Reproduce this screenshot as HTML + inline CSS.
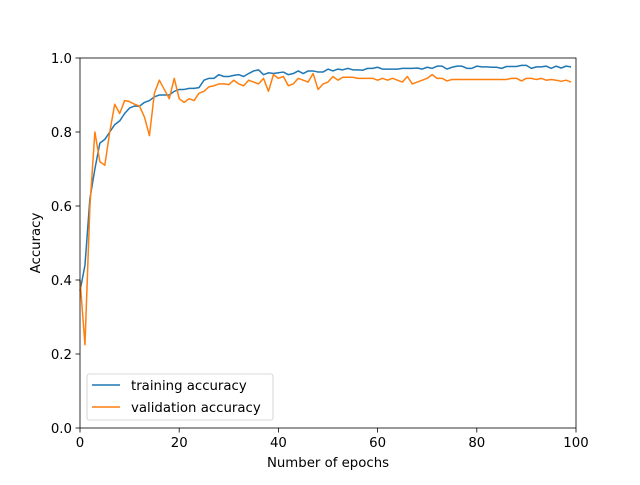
<!DOCTYPE html>
<html><head><meta charset="utf-8"><style>
body{margin:0;background:#fff;}
svg text{font-family:"DejaVu Sans","Liberation Sans",sans-serif;font-size:13.3px;fill:#000;}
</style></head><body>
<svg id="chart" width="640" height="480">
<rect width="640" height="480" fill="#fff"/>
<g id="plot"></g>
</svg>
<script>
const epochs = Array.from({length:100},(_,i)=>i);
const trainingAcc = [0.37,0.44,0.62,0.7,0.77,0.78,0.8,0.82,0.83,0.85,0.865,0.87,0.87,0.88,0.885,0.895,0.9,0.9,0.9,0.91,0.915,0.915,0.918,0.918,0.92,0.94,0.945,0.945,0.955,0.95,0.95,0.953,0.955,0.95,0.958,0.965,0.968,0.955,0.96,0.958,0.96,0.962,0.955,0.958,0.965,0.958,0.965,0.965,0.962,0.962,0.97,0.965,0.97,0.968,0.972,0.968,0.968,0.967,0.972,0.972,0.975,0.97,0.97,0.97,0.97,0.972,0.972,0.972,0.973,0.97,0.975,0.972,0.978,0.978,0.97,0.975,0.978,0.978,0.972,0.972,0.978,0.976,0.976,0.975,0.975,0.972,0.977,0.977,0.977,0.98,0.98,0.972,0.976,0.976,0.978,0.972,0.978,0.973,0.978,0.976];
const validationAcc = [0.4,0.225,0.6,0.8,0.72,0.71,0.8,0.875,0.85,0.885,0.882,0.875,0.87,0.84,0.79,0.905,0.94,0.915,0.89,0.945,0.89,0.88,0.89,0.885,0.905,0.91,0.922,0.925,0.93,0.93,0.928,0.94,0.93,0.925,0.94,0.935,0.93,0.945,0.91,0.955,0.945,0.95,0.925,0.93,0.945,0.94,0.935,0.958,0.915,0.93,0.935,0.95,0.94,0.948,0.948,0.948,0.945,0.945,0.945,0.945,0.94,0.945,0.94,0.945,0.94,0.935,0.95,0.93,0.935,0.94,0.945,0.955,0.945,0.945,0.938,0.942,0.942,0.942,0.942,0.942,0.942,0.942,0.942,0.942,0.942,0.942,0.942,0.945,0.945,0.938,0.945,0.945,0.942,0.945,0.94,0.942,0.94,0.937,0.94,0.935];
const xTicks = [0,20,40,60,80,100];
const yTicks = [0.0,0.2,0.4,0.6,0.8,1.0];

const NS='http://www.w3.org/2000/svg';
const L=80,R=576,T=58,B=428;
const xs=v=>L+(v-0)/(100-0)*(R-L);
const ys=v=>B-(v-0)/(1-0)*(B-T);
const g=document.getElementById('plot');
function mk(tag,attrs,parent){const e=document.createElementNS(NS,tag);for(const k in attrs)e.setAttribute(k,attrs[k]);(parent||g).appendChild(e);return e;}

function line(arr,color,name){
  const p=mk('polyline',{points:arr.map((v,i)=>xs(epochs[i])+','+ys(v)).join(' '),fill:'none',stroke:color,'stroke-width':1.5,'stroke-linejoin':'round'});
  
  
}
line(trainingAcc,'#1f77b4','training-accuracy-line');
line(validationAcc,'#ff7f0e','validation-accuracy-line');

const frame=mk('rect',{x:L,y:T,width:R-L,height:B-T,fill:'none',stroke:'#000','stroke-width':0.8});



xTicks.forEach(t=>{
  const x=xs(t);
  const tk=mk('line',{x1:x,x2:x,y1:B,y2:B+4.5,stroke:'#000','stroke-width':0.8});
  
  
  const tx=mk('text',{x:x,y:B+19,'text-anchor':'middle'});tx.textContent=t;
  
  
});
yTicks.forEach(t=>{
  const y=ys(t);
  const tk=mk('line',{x1:L-4.5,x2:L,y1:y,y2:y,stroke:'#000','stroke-width':0.8});
  
  
  const tx=mk('text',{x:L-8,y:y+5,'text-anchor':'end'});tx.textContent=t.toFixed(1);
  
  
});
const xl=mk('text',{x:(L+R)/2,y:467,'text-anchor':'middle'});xl.textContent='Number of epochs';


const yl=mk('text',{x:0,y:0,'text-anchor':'middle',transform:'translate(40,243) rotate(-90)'});yl.textContent='Accuracy';



const lg=mk('g',{});


mk('rect',{x:87,y:374,width:186,height:46,rx:2,fill:'#fff','fill-opacity':0.8,stroke:'#ccc','stroke-width':0.8},lg);
[['training accuracy','#1f77b4',385],['validation accuracy','#ff7f0e',407]].forEach(([lab,c,y])=>{
  const e=mk('g',{},lg);
  
  
  mk('line',{x1:92,x2:120,y1:y,y2:y,stroke:c,'stroke-width':1.5},e);
  const t=mk('text',{x:131,y:y+5},e);t.textContent=lab;
});
</script>
</body></html>
